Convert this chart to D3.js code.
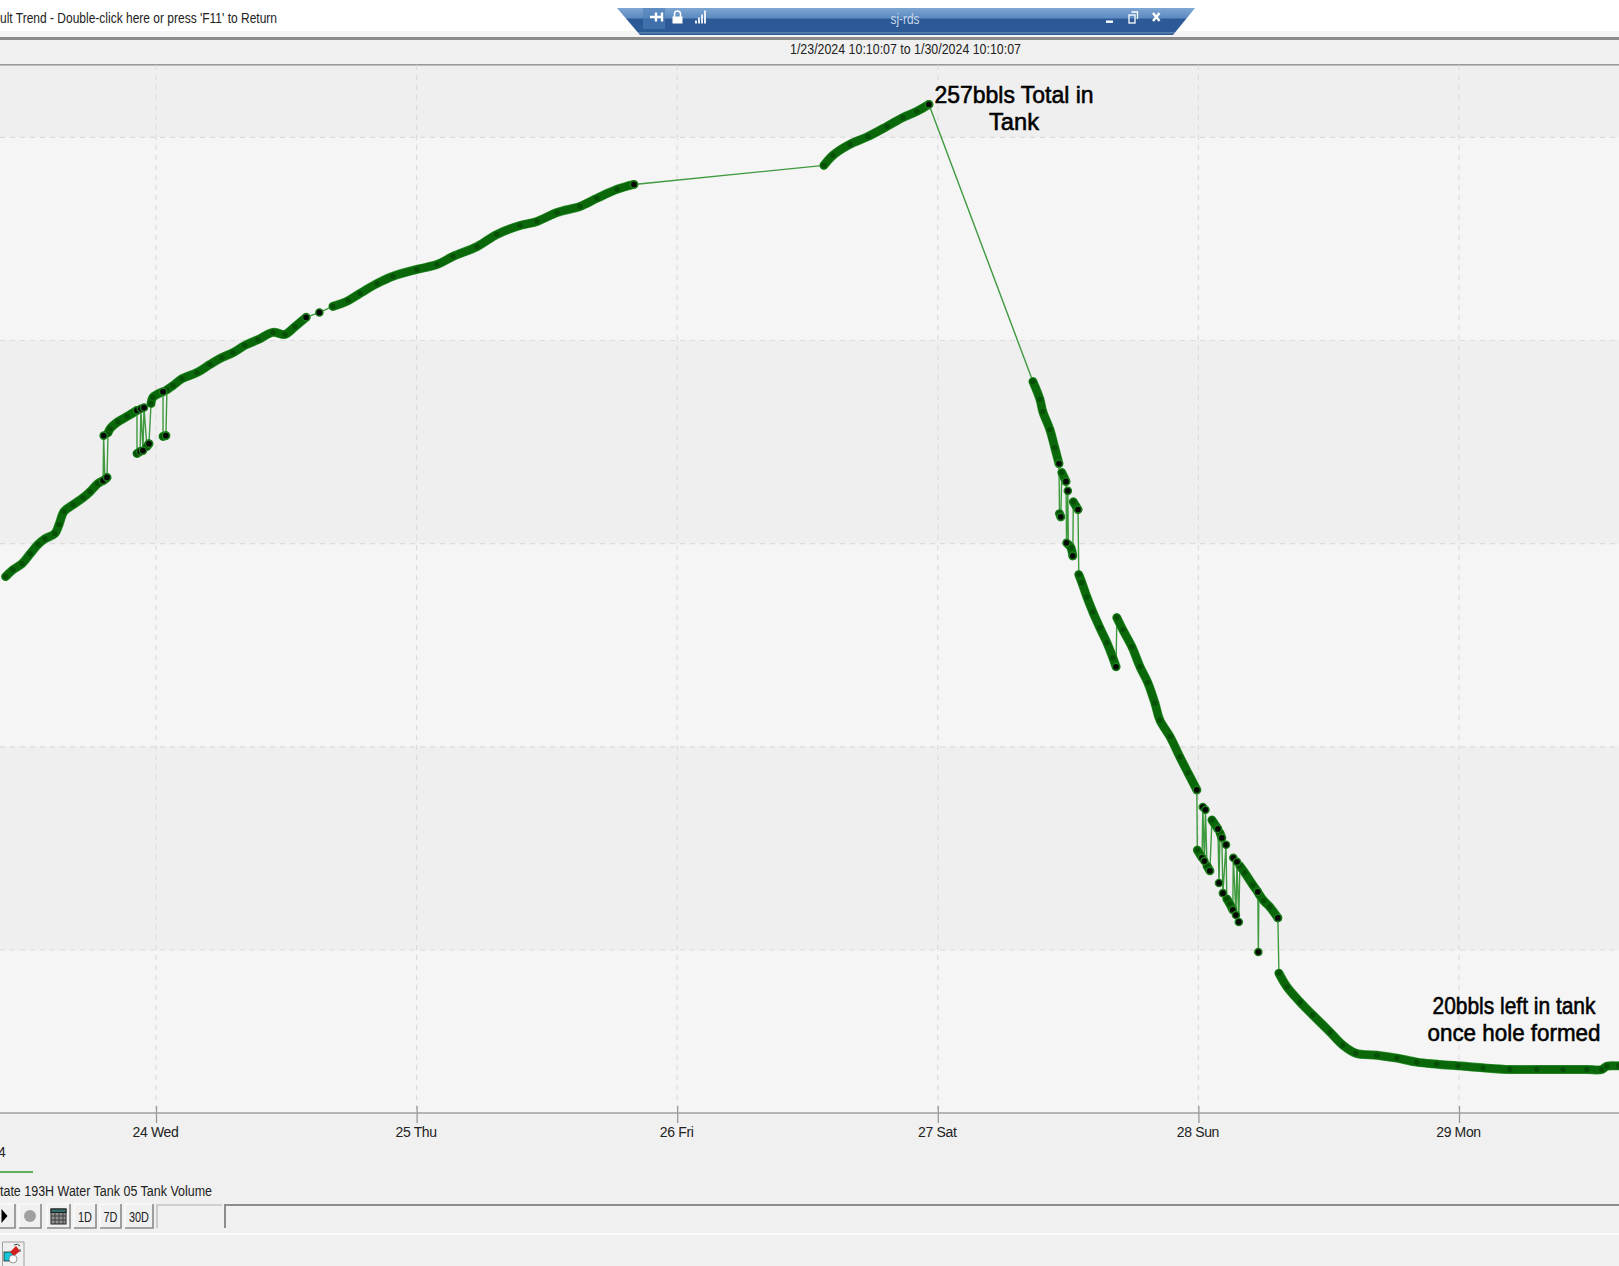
<!DOCTYPE html>
<html><head><meta charset="utf-8">
<style>
html,body{margin:0;padding:0;background:#fff;overflow:hidden}
svg{display:block}
text{font-family:"Liberation Sans",Arial,sans-serif;fill:#222}
</style>
<script src="https://cdn.jsdelivr.net/npm/d3@7/dist/d3.min.js"></script>
</head><body>
<svg id="c" width="1619" height="1266"></svg>
<script>
// ---- values: [days after Jan 24 00:00, tank volume in bbl] ----
const dayTicks = [0,1,2,3,4,5];
const dayLabels = ["24 Wed","25 Thu","26 Fri","27 Sat","28 Sun","29 Mon"];
const volumeGrid = [50,100,150,200,250];
const titleText = "ult Trend - Double-click here or press 'F11' to Return";
const rangeText = "1/23/2024 10:10:07 to 1/30/2024 10:10:07";
const seriesName = "tate 193H Water Tank 05 Tank Volume";
const notePeak = ["257bbls Total in","Tank"];
const noteLow = ["20bbls left in tank","once hole formed"];

const riseA = [[-.577,141.9],[-.549,143.6],[-.514,145.1],[-.483,147.5],[-.453,149.8],[-.426,151.2],[-.388,152.5],[-.372,154.7],[-.353,157.9],[-.318,159.6],[-.280,161.3],[-.253,162.8],[-.223,164.8],[-.203,165.5]];
const jumpA = [[-.201,176.6]];
const riseA2 = [[-.196,165.8],[-.188,166.3]];
const riseB = [[-.184,177.3],[-.176,178.3],[-.146,180],[-.111,181.3],[-.073,182.8]];
const dipA = [[-.073,172.2],[-.061,172.7]];
const backA = [[-.058,183.2]];
const dipB = [[-.050,172.9]];
const backB = [[-.046,183.5]];
const dipC = [[-.035,173.9],[-.027,174.6]];
const riseC = [[-.019,184.5],[-.012,186],[.027,187.4]];
const dipD = [[.027,176.4],[.038,176.6]];
const riseD = [[.042,187.9],[.065,188.9],[.100,190.6],[.157,192.1],[.207,194.1],[.253,195.8],[.295,197],[.341,198.8],[.391,200.2],[.449,202],[.495,201.5],[.533,203.4],[.576,205.7]];
const loneA = [[.627,206.9]];
const riseE = [[.679,208.4],[.737,209.8],[.783,211.6],[.848,214],[.909,215.8],[1.001,217.5],[1.078,218.7],[1.140,220.7],[1.232,223.1],[1.308,226.1],[1.397,228.3],[1.462,229.3],[1.539,231.5],[1.627,233],[1.692,235],[1.769,237.2],[1.834,238.4]];
const riseF = [[2.563,243.1],[2.598,245.6],[2.663,248.3],[2.732,250.2],[2.805,252.7],[2.866,254.9],[2.920,256.4],[2.966,258.1]];
const fallA = [[3.365,189.9],[3.392,185.5],[3.403,182.5],[3.430,178.1],[3.449,173.6],[3.465,169.7]];
const fallB = [[3.467,157.4],[3.472,156.6]];
const fallC = [[3.476,167.5],[3.492,165.3]];
const fallD = [[3.494,150.2]];
const fallE = [[3.499,163]];
const fallF = [[3.501,149.8],[3.511,149],[3.518,147]];
const fallG = [[3.520,160.3],[3.538,158.4]];
const fallH = [[3.541,142.4],[3.553,140.4],[3.572,136.9],[3.595,133.2],[3.622,129.3],[3.649,125.6],[3.672,121.9],[3.684,119.7]];
const fallI = [[3.687,131.8],[3.710,128.8],[3.745,124.6],[3.776,119.7],[3.806,115.8],[3.833,110.8],[3.852,106.6],[3.891,102.5],[3.929,97.5],[3.960,93.6],[3.994,89.4]];
const sunL1 = [[3.996,74.6],[4.014,72.7]];
const sunU1 = [[4.017,85.2]];
const sunL2 = [[4.023,71.9]];
const sunU2 = [[4.027,84.5]];
const sunL3 = [[4.033,70.7],[4.044,69.5]];
const sunU3 = [[4.052,82],[4.075,79.8]];
const sunL4 = [[4.079,66.5]];
const sunU4 = [[4.083,78.8],[4.090,77.6]];
const sunL5 = [[4.094,64]];
const sunU5 = [[4.106,75.9]];
const sunL6 = [[4.109,62.6],[4.121,61.3],[4.132,59.9]];
const sunU6 = [[4.134,72.7]];
const sunL7 = [[4.144,58.6]];
const sunU7 = [[4.148,71.7]];
const sunL8 = [[4.155,56.9]];
const sunU8 = [[4.159,70.7],[4.178,69],[4.209,66],[4.228,64.3]];
const sunDip = [[4.230,49.5]];
const sunU9 = [[4.232,63.8],[4.251,62.1],[4.274,60.6],[4.305,57.9]];
const tail = [[4.309,44.3],[4.340,40.9],[4.390,37.2],[4.439,34],[4.505,29.8],[4.554,26.6],[4.604,24.6],[4.685,24.1],[4.762,23.4],[4.838,22.4],[4.915,21.9],[4.996,21.5],[5.092,21],[5.195,20.6],[5.299,20.6],[5.399,20.6],[5.491,20.6],[5.548,20.6],[5.567,21.4],[5.613,21.5],[5.636,21.6]];
const runs = [riseA,jumpA,riseA2,riseB,dipA,backA,dipB,backB,dipC,riseC,dipD,riseD,loneA,riseE,riseF,fallA,fallB,fallC,fallD,fallE,fallF,fallG,fallH,fallI,sunL1,sunU1,sunL2,sunU2,sunL3,sunU3,sunL4,sunU4,sunL5,sunU5,sunL6,sunU6,sunL7,sunU7,sunL8,sunU8,sunDip,sunU9,tail];

// ---- scales ----
const W = 1619, H = 1266, plotTop = 65, plotBottom = 1113;
const volumeMin = 9.89, volumeMax = 267.8;
const x = d3.scaleLinear().domain([0,5]).range([156,1459]);
const y = d3.scaleLinear().domain([volumeMin,volumeMax]).range([plotBottom,plotTop]);
const svg = d3.select("#c");

// ---- window chrome: page colours ----
svg.append("rect").attr("width",W).attr("height",H).attr("fill","#f0f0f0");
svg.append("rect").attr("width",W).attr("height",31).attr("fill","#fff");
svg.append("rect").attr("y",31).attr("width",W).attr("height",6).attr("fill","#f4f4f4");
svg.append("rect").attr("y",37).attr("width",W).attr("height",3).attr("fill","#8c8c8c");

// ---- plot bands ----
const bandEdges = [volumeMax,250,200,150,100,50,volumeMin];
svg.selectAll("rect.band").data(d3.pairs(bandEdges)).join("rect").attr("class","band")
  .attr("x",0).attr("width",W).attr("y",d=>y(d[0])).attr("height",d=>y(d[1])-y(d[0]))
  .attr("fill",(d,i)=>i%2?"#f5f5f5":"#efefef");
svg.append("rect").attr("y",64).attr("width",W).attr("height",1.6).attr("fill","#9a9a9a");

// ---- grid ----
svg.selectAll("line.h").data(volumeGrid).join("line").attr("class","h")
  .attr("x1",0).attr("x2",W).attr("y1",d=>y(d)).attr("y2",d=>y(d))
  .attr("stroke","#dcdcdc").attr("stroke-width",1.2).attr("stroke-dasharray","5 5");
svg.selectAll("line.v").data(dayTicks).join("line").attr("class","v")
  .attr("x1",d=>x(d)).attr("x2",d=>x(d)).attr("y1",plotTop).attr("y2",plotBottom)
  .attr("stroke","#dcdcdc").attr("stroke-width",1.2).attr("stroke-dasharray","5 5");

// ---- x axis ----
const ax = svg.append("g").attr("transform",`translate(0,${plotBottom})`)
  .call(d3.axisBottom(x).tickValues(dayTicks).tickFormat((d,i)=>dayLabels[i]).tickSize(10).tickPadding(4));
ax.select(".domain").remove();
ax.selectAll(".tick line").attr("stroke","#999").attr("stroke-width",1.3).attr("y1",-7);
ax.selectAll(".tick text").attr("font-size",14).attr("fill","#222").attr("font-family","Liberation Sans").style("letter-spacing","-0.35px").attr("dx",-1);
svg.append("line").attr("x1",0).attr("x2",W).attr("y1",plotBottom).attr("y2",plotBottom).attr("stroke","#a0a0a0").attr("stroke-width",1.6);

// ---- series ----
const line = d3.line().x(d=>x(d[0])).y(d=>y(d[1]));
const smooth = d3.line().x(d=>x(d[0])).y(d=>y(d[1])).curve(d3.curveCatmullRom.alpha(.5));
svg.append("path").attr("d",line(runs.flat())).attr("fill","none").attr("stroke","#3f9a3f").attr("stroke-width",1.4);
const thick = runs.filter(r=>r.length>1);
svg.selectAll("path.halo").data(thick).join("path").attr("class","halo").attr("d",smooth).attr("fill","none")
  .attr("stroke","#3d9a3d").attr("stroke-width",9).attr("stroke-linecap","round").attr("stroke-linejoin","round");
svg.selectAll("path.run").data(thick).join("path").attr("class","run").attr("d",smooth).attr("fill","none")
  .attr("stroke","#0a680a").attr("stroke-width",7.8).attr("stroke-linecap","round").attr("stroke-linejoin","round");
const marks = runs.flatMap(r=>r.map((p,i)=>({p,last:i===r.length-1})));
svg.selectAll("circle.m").data(marks.filter(m=>!m.last)).join("circle").attr("class","m")
  .attr("cx",d=>x(d.p[0])).attr("cy",d=>y(d.p[1])).attr("r",3.4).attr("fill","#064f06").attr("stroke","#0c700c").attr("stroke-width",1);
svg.selectAll("circle.e").data(marks.filter(m=>m.last)).join("circle").attr("class","e")
  .attr("cx",d=>x(d.p[0])).attr("cy",d=>y(d.p[1])).attr("r",3.6).attr("fill","#050a05").attr("stroke","#1c7f1c").attr("stroke-width",1.4);

// ---- annotations ----
function note(lines,cx,ys,widths){
  lines.forEach((t,i)=>svg.append("text").attr("x",cx).attr("y",ys[i]).attr("text-anchor","middle")
    .attr("font-size",24.5).attr("textLength",widths[i]).attr("lengthAdjust","spacingAndGlyphs")
    .style("fill","#000").attr("stroke","#000").attr("stroke-width",0.6).text(t));
}
note(notePeak,1014,[103,130],[159,50]);
note(noteLow,1514,[1014,1041],[163,173]);

// ---- top bar text ----
svg.append("text").attr("x",0).attr("y",23).attr("font-size",14.5).attr("textLength",277).attr("lengthAdjust","spacingAndGlyphs").text(titleText);
svg.append("text").attr("x",790).attr("y",54).attr("font-size",14.5).attr("textLength",231).attr("lengthAdjust","spacingAndGlyphs").text(rangeText);

// ---- blue tab ----
const defs = svg.append("defs");
const g = defs.append("linearGradient").attr("id","tab").attr("x1",0).attr("x2",0).attr("y1",0).attr("y2",1);
[[0,"#7ea6d3"],[.36,"#5c8bc0"],[.42,"#2c5a97"],[.88,"#2c5a97"],[.92,"#6f8fb5"],[.96,"#2c5a97"],[1,"#2c5a97"]]
  .forEach(s=>g.append("stop").attr("offset",s[0]).attr("stop-color",s[1]));
svg.append("path").attr("d","M617,8 L1195,8 L1173,35 L640,35 Z").attr("fill","url(#tab)");
svg.append("rect").attr("x",643).attr("y",8).attr("width",22).attr("height",21).attr("fill","#4f7fb8").attr("opacity",.6);
svg.append("path").attr("d","M650,17 h13 M656,12.5 v9 M662,12.5 v9").attr("stroke","#fff").attr("stroke-width",2.4).attr("fill","none");
svg.append("path").attr("d","M674.5,17 v-3 a3,3 0 0 1 6,0 v3").attr("stroke","#fff").attr("stroke-width",1.6).attr("fill","none");
svg.append("rect").attr("x",672.5).attr("y",16.5).attr("width",10).attr("height",7).attr("fill","#fff");
svg.selectAll("rect.sig").data([3,6,9,13]).join("rect").attr("class","sig")
  .attr("x",(d,i)=>695+i*3).attr("y",d=>23.5-d).attr("width",2).attr("height",d=>d).attr("fill","#e8eef6");
svg.append("text").attr("x",905).attr("y",24).attr("text-anchor","middle").attr("font-size",14).attr("textLength",29).attr("lengthAdjust","spacingAndGlyphs").style("fill","#c9d8ea").text("sj-rds");
svg.append("rect").attr("x",1106).attr("y",20.5).attr("width",7).attr("height",2.4).attr("fill","#fff");
svg.append("rect").attr("x",1129).attr("y",15).attr("width",6).attr("height",8).attr("fill","none").attr("stroke","#fff").attr("stroke-width",1.3);
svg.append("path").attr("d","M1131.5,12 h6 v7").attr("fill","none").attr("stroke","#fff").attr("stroke-width",1.3);
svg.append("path").attr("d","M1153,13 L1159.5,21 M1159.5,13 L1153,21").attr("stroke","#fff").attr("stroke-width",2.4);

// ---- legend ----
svg.append("text").attr("x",-2).attr("y",1157).attr("font-size",14).text("4");
svg.append("rect").attr("x",0).attr("y",1171).attr("width",33).attr("height",2).attr("fill","#5caf5c");
svg.append("text").attr("x",0).attr("y",1195.5).attr("font-size",14).attr("textLength",212).attr("lengthAdjust","spacingAndGlyphs").text(seriesName);

// ---- toolbar ----
function btn(x0,x1,label){
  const b = svg.append("g");
  b.append("rect").attr("x",x0).attr("y",1204).attr("width",x1-x0).attr("height",24).attr("fill","#f0f0f0");
  b.append("path").attr("d",`M${x0},1228 V1204 H${x1}`).attr("fill","none").attr("stroke","#fff").attr("stroke-width",1);
  b.append("path").attr("d",`M${x0},1228 H${x1} V1204`).attr("fill","none").attr("stroke","#8a8a8a").attr("stroke-width",1.6);
  if(label) b.append("text").attr("x",(x0+x1)/2).attr("y",1221.5).attr("text-anchor","middle").attr("font-size",14.5).attr("textLength",label.length>2?20:14).attr("lengthAdjust","spacingAndGlyphs").text(label);
}
btn(-4,15); svg.append("path").attr("d","M1.5,1209 L7.5,1216 L1.5,1223 Z").attr("fill","#000");
btn(19,41); svg.append("circle").attr("cx",30).attr("cy",1216).attr("r",6).attr("fill","#a0a0a0");
btn(47,70);
svg.append("rect").attr("x",51).attr("y",1209).attr("width",15).attr("height",15).attr("fill","#8f8f8f").attr("stroke","#222");
svg.append("rect").attr("x",51).attr("y",1209).attr("width",15).attr("height",3.5).attr("fill","#2f6f6f").attr("stroke","#222");
svg.append("path").attr("d","M51,1216 h15 M51,1220 h15 M55,1212 v12 M59,1212 v12 M63,1212 v12").attr("stroke","#222").attr("stroke-width",.7);
btn(74,96,"1D"); btn(100,121,"7D"); btn(125,153,"30D");
svg.append("path").attr("d","M157,1228 V1205 H222").attr("fill","none").attr("stroke","#c4c4c4").attr("stroke-width",1.6);
svg.append("path").attr("d","M225,1228 V1205 H1619").attr("fill","none").attr("stroke","#8c8c8c").attr("stroke-width",2);
svg.append("rect").attr("x",0).attr("y",1233.5).attr("width",W).attr("height",1.2).attr("fill","#fff");

// ---- bottom icon ----
svg.append("path").attr("d","M2.5,1266 V1242 H24 V1266").attr("fill","#f0f0f0").attr("stroke","#a0a0a0").attr("stroke-width",1);
svg.append("rect").attr("x",4).attr("y",1252).attr("width",9).attr("height",9).attr("fill","#12c8d8").attr("stroke","#222").attr("stroke-width",.8);
svg.append("path").attr("d","M10,1252 L16,1246 L20,1251 L14,1256 Z").attr("fill","#d02020");
svg.append("circle").attr("cx",13).attr("cy",1259).attr("r",4).attr("fill","#fff").attr("stroke","#555").attr("stroke-width",.6);
svg.append("path").attr("d","M14,1245 q4,-2 6,1 M20,1252 v-3").attr("fill","none").attr("stroke","#444").attr("stroke-width",1);
</script>
</body></html>
